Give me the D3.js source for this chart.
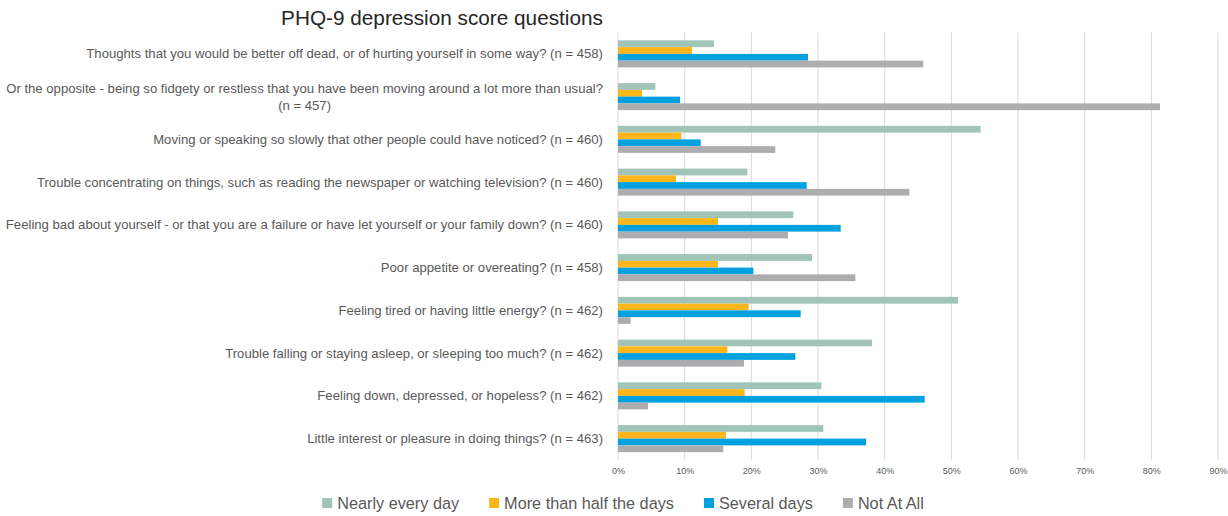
<!DOCTYPE html>
<html>
<head>
<meta charset="utf-8">
<script src="https://cdn.jsdelivr.net/npm/d3@7"></script>
<style>
  html, body { margin: 0; padding: 0; background: #fff; }
  svg { display: block; }
  text { font-family: "Liberation Sans Narrow", "Liberation Sans", Arial, sans-serif; fill: #595959; }
</style>
</head>
<body>
<svg id="chart" width="1228" height="516"></svg>
<script>
// Questions, listed top to bottom as drawn
const questions = [
  ["Thoughts that you would be better off dead, or of hurting yourself in some way? (n = 458)"],
  ["Or the opposite - being so fidgety or restless that you have been moving around a lot more than usual?", "(n = 457)"],
  ["Moving or speaking so slowly that other people could have noticed? (n = 460)"],
  ["Trouble concentrating on things, such as reading the newspaper or watching television? (n = 460)"],
  ["Feeling bad about yourself - or that you are a failure or have let yourself or your family down? (n = 460)"],
  ["Poor appetite or overeating? (n = 458)"],
  ["Feeling tired or having little energy? (n = 462)"],
  ["Trouble falling or staying asleep, or sleeping too much? (n = 462)"],
  ["Feeling down, depressed, or hopeless? (n = 462)"],
  ["Little interest or pleasure in doing things? (n = 463)"]
];

const seriesNames = ["Nearly every day", "More than half the days", "Several days", "Not At All"];

// Share of respondents per answer, in percent (same question order as above)
const nearlyEveryDay   = [14.4, 5.6, 54.4, 19.4, 26.3, 29.1, 51.0, 38.1, 30.5, 30.8];
const moreThanHalf     = [11.1, 3.6,  9.5,  8.7, 15.0, 15.0, 19.6, 16.4, 19.0, 16.2];
const severalDays      = [28.5, 9.3, 12.4, 28.3, 33.4, 20.3, 27.4, 26.6, 46.0, 37.2];
const notAtAll         = [45.8, 81.3, 23.6, 43.7, 25.5, 35.6, 1.9, 18.9, 4.5, 15.8];

const xTicks = [0, 10, 20, 30, 40, 50, 60, 70, 80, 90];

const colors = ["#A0C4B8", "#FDB71A", "#00A1DE", "#ADADB0"];

const seriesValues = [nearlyEveryDay, moreThanHalf, severalDays, notAtAll];
const rows = questions.map((q, i) => ({
  key: i,
  lines: q,
  values: seriesNames.map((s, j) => ({ series: s, j, value: seriesValues[j][i] }))
}));

const svg = d3.select("#chart");

const x = d3.scaleLinear().domain([0, 90]).range([618, 1218]);
const y = d3.scaleBand()
  .domain(rows.map(d => d.key))
  .range([32.5, 460])
  .paddingInner(0.368)
  .paddingOuter(0.184);
const ySub = d3.scaleBand()
  .domain(seriesNames)
  .range([0, y.bandwidth()]);

// Vertical gridlines
svg.append("g")
  .selectAll("line")
  .data(xTicks)
  .join("line")
  .attr("x1", d => x(d)).attr("x2", d => x(d))
  .attr("y1", 32.5).attr("y2", 460)
  .attr("stroke", "#D9D9D9")
  .attr("stroke-width", 1);

// X axis labels
const xAxis = svg.append("g")
  .attr("transform", "translate(0,460)")
  .call(d3.axisBottom(x).tickValues(xTicks).tickFormat(d => d + "%").tickSize(0).tickPadding(8));
xAxis.select(".domain").remove();
xAxis.selectAll("text")
  .style("font-size", "9px")
  .style("fill", "#595959")
  .style("font-family", "\"Liberation Sans Narrow\", \"Liberation Sans\", Arial, sans-serif");

// Bars
const groups = svg.append("g")
  .selectAll("g")
  .data(rows)
  .join("g")
  .attr("transform", d => `translate(0,${y(d.key)})`);

groups.selectAll("rect")
  .data(d => d.values)
  .join("rect")
  .attr("x", x(0))
  .attr("y", d => ySub(d.series))
  .attr("width", d => x(d.value) - x(0))
  .attr("height", ySub.bandwidth())
  .attr("fill", d => colors[d.j]);

// Category labels, right aligned against the axis
const labelG = svg.append("g");
const labels = labelG.selectAll("text")
  .data(rows)
  .join("text")
  .attr("text-anchor", "end")
  .style("font-size", "13px");

labels.each(function(d) {
  const t = d3.select(this);
  const cy = y(d.key) + y.bandwidth() / 2;
  const lh = 17;
  const n = d.lines.length;
  d.lines.forEach((line, k) => {
    const off = (k - (n - 1) / 2) * lh;
    t.append("tspan")
      .attr("x", 603)
      .attr("y", cy + off)
      .attr("dy", "0.35em")
      .text(line);
  });
});

// fit label size so the longest line spans the label column
let maxW = 0;
labels.selectAll("tspan").each(function() { maxW = Math.max(maxW, this.getComputedTextLength()); });
const labelSize = 13 * 598 / maxW;
labels.style("font-size", labelSize + "px");

// Second line of a wrapped label is centred under the first line
labels.each(function(d) {
  if (d.lines.length > 1) {
    const spans = d3.select(this).selectAll("tspan").nodes();
    const w0 = spans[0].getComputedTextLength();
    const centre = 603 - w0 / 2;
    d3.select(spans[1]).attr("x", centre).attr("text-anchor", "middle");
  }
});

// Title
const title = svg.append("text")
  .attr("x", 442)
  .attr("y", 25)
  .attr("text-anchor", "middle")
  .style("font-size", "21px")
  .style("fill", "#262626")
  .text("PHQ-9 depression score questions");
const tw = title.node().getComputedTextLength();
title.style("font-size", (21 * 322 / tw) + "px");

// Legend
const legend = svg.append("g");
const items = legend.selectAll("g")
  .data(seriesNames)
  .join("g");
items.append("rect")
  .attr("width", 10).attr("height", 10)
  .attr("y", -5)
  .attr("fill", (d, i) => colors[i]);
items.append("text")
  .attr("x", 15)
  .attr("dy", "0.35em")
  .style("font-size", "17px")
  .text(d => d);

// scale legend text so "Nearly every day" is about 122px wide
const nw = items.select("text").node().getComputedTextLength();
const legendSize = 17 * 122 / nw;
items.selectAll("text").style("font-size", legendSize + "px");

const widths = [];
items.each(function() {
  const w = 15 + d3.select(this).select("text").node().getComputedTextLength();
  widths.push(w);
});
const gap = 30;
const total = d3.sum(widths) + gap * (widths.length - 1);
const startX = 623 - total / 2;
items.attr("transform", (d, i) => {
  const pos = startX + d3.sum(widths.slice(0, i)) + gap * i;
  return `translate(${pos},503)`;
});
</script>
</body>
</html>
